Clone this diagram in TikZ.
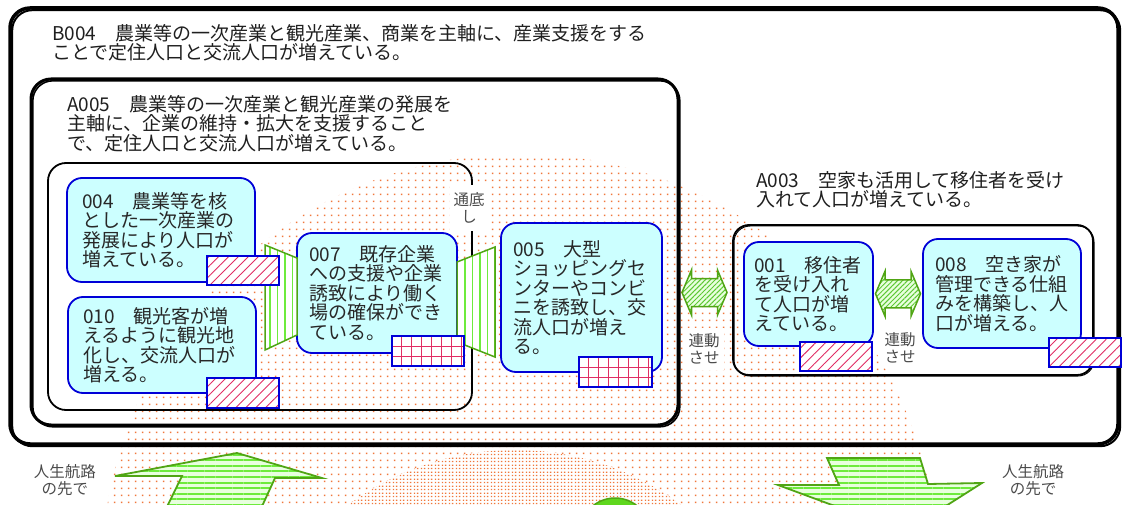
\documentclass[tikz,border=0pt]{standalone}
\usepackage{fontspec}
\newfontfamily\jp{Noto Sans CJK JP}
\usetikzlibrary{patterns,patterns.meta,calc}
\pgfdeclarepatternformonly{sparsedots}{\pgfqpoint{0pt}{0pt}}{\pgfqpoint{7pt}{7pt}}{\pgfqpoint{7pt}{7pt}}{%
  \pgfpathrectangle{\pgfqpoint{2pt}{2pt}}{\pgfqpoint{1.8pt}{1.8pt}}\pgfusepath{fill}}
\pgfdeclarepatternformonly{densedots}{\pgfqpoint{0pt}{0pt}}{\pgfqpoint{7pt}{7pt}}{\pgfqpoint{7pt}{7pt}}{%
  \pgfpathrectangle{\pgfqpoint{1pt}{1pt}}{\pgfqpoint{1.5pt}{1.5pt}}%
  \pgfpathrectangle{\pgfqpoint{4.5pt}{1pt}}{\pgfqpoint{1.5pt}{1.5pt}}%
  \pgfpathrectangle{\pgfqpoint{1pt}{4.5pt}}{\pgfqpoint{1.5pt}{1.5pt}}%
  \pgfpathrectangle{\pgfqpoint{4.5pt}{4.5pt}}{\pgfqpoint{1.5pt}{1.5pt}}\pgfusepath{fill}}
\definecolor{cyanfill}{RGB}{204,255,255}
\definecolor{nblue}{RGB}{0,0,215}
\definecolor{hred}{RGB}{225,45,100}
\definecolor{gline}{RGB}{80,165,20}
\definecolor{gstripe}{RGB}{110,235,60}
\definecolor{gpale}{RGB}{232,255,222}
\definecolor{dotc}{RGB}{240,120,60}
\definecolor{txt}{RGB}{40,40,40}
\definecolor{lblc}{RGB}{75,75,75}
\definecolor{gball}{RGB}{95,215,30}
\begin{document}
\begin{tikzpicture}[x=1pt,y=-1pt,
  container/.style={draw=black, rounded corners=#1, anchor=north west, inner sep=0pt, outer sep=0pt},
  shadowline/.style={draw=black, rounded corners=#1},
  titletext/.style={anchor=north west, align=left, inner sep=0pt, text=black!88, font=\jp\fontsize{19}{19.7}\selectfont},
  cbox/.style={draw=nblue, line width=1.8pt, fill=cyanfill, rounded corners=15pt, anchor=north west, align=left, inner ysep=0pt, outer sep=0pt, text=txt, font=\jp\fontsize{19}{19.5}\selectfont},
  hatchbox/.style={draw=nblue, line width=1.5pt, preaction={fill=white}, pattern={Lines[angle=45,distance=7pt,line width=0.9pt]}, pattern color=hred, anchor=north west, inner sep=0pt, outer sep=0pt},
  gridbox/.style={draw=nblue, line width=1.5pt, fill=white, anchor=north west, inner sep=0pt, outer sep=0pt,
    path picture={
      \foreach \i in {1,...,7}{\draw[hred, line width=0.9pt] ([xshift=\i*10pt-1pt]path picture bounding box.north west) -- ([xshift=\i*10pt-1pt]path picture bounding box.south west);}
      \foreach \j in {1,2}{\draw[hred, line width=0.9pt] ([yshift=-\j*10pt]path picture bounding box.north west) -- ([yshift=-\j*10pt]path picture bounding box.north east);}
    }},
  trap/.style={draw=gline, line width=1.5pt, preaction={fill=white}, pattern={Lines[angle=90,distance=7.5pt,line width=1.3pt]}, pattern color=gstripe},
  bigarrow/.style={draw=gline, line width=1.8pt, preaction={fill=gpale}, pattern={Lines[angle=0,distance=5.6pt,line width=2pt]}, pattern color=gstripe},
  dblarrow/.style={draw=gline, line width=1.5pt, preaction={fill=gpale}, pattern={Lines[angle=45,distance=3.5pt,line width=1pt]}, pattern color=gstripe!85!black},
  lbl/.style={align=center, text=lblc, inner xsep=4pt, inner ysep=6pt, font=\jp\fontsize{15.5}{17}\selectfont}
]
\useasboundingbox (0,0) rectangle (1122,505);
\clip (0,0) rectangle (1122,505);
% dotted background
\fill[pattern=sparsedots, pattern color=dotc] (520,572) circle (418pt);
\fill[white] (515,730) circle (280pt);
\fill[pattern=densedots, pattern color=dotc] (515,730) circle (280pt);
% containers
\node[container=20pt, line width=3.5pt, minimum width=1108pt, minimum height=436pt] (b004) at (10,8) {};
\draw[shadowline=20pt, line width=2pt] ([xshift=2.2pt,yshift=-2.2pt]b004.north west) rectangle ([xshift=2.2pt,yshift=-2.2pt]b004.south east);
\node[container=20pt, line width=3pt, minimum width=647pt, minimum height=346pt] (a005) at (31,79) {};
\draw[shadowline=20pt, line width=1.6pt] ([xshift=1.8pt,yshift=-1.8pt]a005.north west) rectangle ([xshift=1.8pt,yshift=-1.8pt]a005.south east);
\node[container=18pt, line width=1.8pt, minimum width=424pt, minimum height=247pt] (inner) at (48,163) {};
\node[container=16pt, line width=1.8pt, minimum width=360pt, minimum height=150pt] (a003) at (733,225) {};
\draw[shadowline=16pt, line width=1pt] ([xshift=1pt,yshift=-1pt]a003.north west) rectangle ([xshift=1pt,yshift=-1pt]a003.south east);
% titles
\node[titletext] (tb004) at (52,24) {B004　農業等の一次産業と観光産業、商業を主軸に、産業支援をする\\ことで定住人口と交流人口が増えている。};
\node[titletext] (ta005) at (67,95) {A005　農業等の一次産業と観光産業の発展を\\主軸に、企業の維持・拡大を支援すること\\で、定住人口と交流人口が増えている。};
\node[titletext] (ta003) at (756,171) {A003　空家も活用して移住者を受け\\入れて人口が増えている。};
% nodes
\node[cbox, inner xsep=15pt, text width=158pt, minimum width=188pt, minimum height=104pt] (n004) at (67,178) {004　農業等を核\\とした一次産業の\\発展により人口が\\増えている。};
\node[cbox, inner xsep=15pt, text width=158pt, minimum width=188pt, minimum height=96pt] (n010) at (68,297) {010　観光客が増\\えるように観光地\\化し、交流人口が\\増える。};
\node[cbox, inner xsep=12pt, text width=136pt, minimum width=160pt, minimum height=120pt] (n007) at (297,233) {007　既存企業\\への支援や企業\\誘致により働く\\場の確保ができ\\ている。};
% funnels
\draw[trap] ($(n007.west)+(-32,-48)$) -- ($(n007.west)+(0,-35)$) -- ($(n007.west)+(0,42)$) -- ($(n007.west)+(-32,57)$) -- cycle;
\draw[trap] ($(n007.east)+(0,-31)$) -- ($(n007.east)+(38,-46)$) -- ($(n007.east)+(38,64)$) -- ($(n007.east)+(0,49)$) -- cycle;
\node[cbox, inner xsep=12pt, text width=137pt, minimum width=161pt, minimum height=149pt] (n005) at (501,223) {005　大型\\ショッピングセ\\ンターやコンビ\\ニを誘致し、交\\流人口が増え\\る。};
\node[cbox, inner xsep=10pt, text width=109pt, minimum width=129pt, minimum height=104pt] (n001) at (744,242) {001　移住者\\を受け入れ\\て人口が増\\えている。};
\node[cbox, inner xsep=12pt, text width=134pt, minimum width=158pt, minimum height=109pt] (n008) at (923,239) {008　空き家が\\管理できる仕組\\みを構築し、人\\口が増える。};
% tags
\node[hatchbox, minimum width=72pt, minimum height=29pt] (h004) at (207,256) {};
\node[hatchbox, minimum width=72pt, minimum height=30pt] (h010) at (207,378) {};
\node[gridbox, minimum width=72pt, minimum height=30pt] (g007) at (392,336) {};
\node[gridbox, minimum width=73pt, minimum height=30pt] (g005) at (579,357) {};
\node[hatchbox, minimum width=72pt, minimum height=29pt] (h001) at (800,342) {};
\node[hatchbox, minimum width=72pt, minimum height=29pt] (h008) at (1049,338) {};
% labels
\node[lbl, fill=white, inner ysep=8pt] (tsutei) at (469,208) {通底\\し};
\node[lbl, fill=white] (rendo1) at (704,349) {連動\\させ};
\node[lbl] (rendo2) at (900,348) {連動\\させ};
\node[lbl] (jinsei1) at (65,480) {人生航路\\の先で};
\node[lbl] (jinsei2) at (1033,480) {人生航路\\の先で};
% double arrows
\coordinate (d1) at (704.5,292.5);
\coordinate (d2) at ($(n001.east)!0.5!(n008.west)$);
\foreach \c in {d1,d2}{
  \draw[dblarrow] ($(\c)+(-22.5,0)$) -- ($(\c)+(-13,-22.5)$) -- ($(\c)+(-13,-14)$) -- ($(\c)+(13,-14)$) -- ($(\c)+(13,-22.5)$) -- ($(\c)+(22.5,0)$) -- ($(\c)+(13,22.5)$) -- ($(\c)+(13,14)$) -- ($(\c)+(-13,14)$) -- ($(\c)+(-13,22.5)$) -- cycle;
}
% big arrows
\draw[bigarrow] (115,476) -- (237,453) -- (322,478) -- (275,478) -- (258,515) -- (163,515) -- (182,476) -- cycle;
\draw[bigarrow] (827,458) -- (920,458) -- (928,484) -- (982,483) -- (905,532) -- (778,485) -- (839,485) -- cycle;
% ball
\filldraw[fill=gball, draw=gline, line width=1.5pt] (615,533) circle (35pt);
\end{tikzpicture}
\end{document}
